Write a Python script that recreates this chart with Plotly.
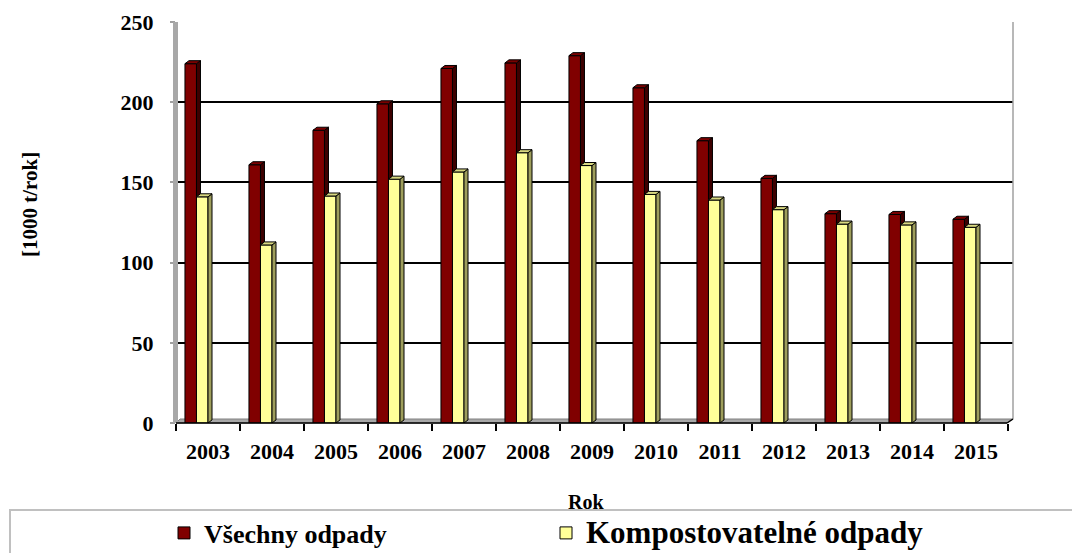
import plotly.graph_objects as go

years = ["2003", "2004", "2005", "2006", "2007", "2008", "2009",
         "2010", "2011", "2012", "2013", "2014", "2015"]
vsechny = [224, 161, 182.5, 199, 221, 224.5, 229, 209, 176, 152.5, 130.5, 130, 127]
kompost = [141, 111, 141.5, 152, 156.5, 168.5, 160.5, 142.5, 139, 133, 124, 123.5, 122]

FONT = "Liberation Serif"
RED, RED_SIDE, RED_TOP = "#800000", "#3d0000", "#7a0000"
YEL, YEL_SIDE, YEL_TOP = "#FFFF99", "#9e9e5c", "#d8d880"

# bar geometry (category units / value units)
W = 0.18
OFF_RED = -0.36
OFF_YEL = -0.18
DX = 0.0625
DY = 1.9

# page offset of the figure (body margin) and target plot area in page pixels
O = 8
L, R, T, B = 176, 1013, 22, 423
WIDTH, HEIGHT = 1080 - O, 553 - O
cat_px = 64.0
x0r = -0.5
x1r = x0r + (R - L) / cat_px

def px(xp):
    return (xp - L) / (R - L)

def py(yp):
    return (B - yp) / (B - T)

idx = list(range(len(years)))

fig = go.Figure()

fig.add_trace(go.Bar(x=idx, y=vsechny, width=W, offset=OFF_RED,
                     marker=dict(color=RED, line=dict(color="black", width=1)),
                     name="<b>Všechny odpady</b>", hoverinfo="y"))
fig.add_trace(go.Bar(x=idx, y=kompost, width=W, offset=OFF_YEL,
                     marker=dict(color=YEL, line=dict(color="black", width=1)),
                     name="<span style='font-size:31px'><b>Kompostovatelné odpady</b></span>",
                     hoverinfo="y"))

def faces(values, off, lower=None):
    sx, sy, tx, ty = [], [], [], []
    for i, v in zip(idx, values):
        a = i + off
        b = a + W
        base = 0 if lower is None else lower[i]
        sx += [b, b + DX, b + DX, b, b, None]
        sy += [base, base + DY, v + DY, v, base, None]
        tx += [a, a + DX, b + DX, b, a, None]
        ty += [v, v + DY, v + DY, v, v, None]
    return sx, sy, tx, ty

sx, sy, tx, ty = faces(vsechny, OFF_RED, lower=kompost)
fig.add_trace(go.Scatter(x=sx, y=sy, mode="lines", fill="toself", fillcolor=RED_SIDE,
                         line=dict(color="black", width=1), showlegend=False, hoverinfo="skip"))
fig.add_trace(go.Scatter(x=tx, y=ty, mode="lines", fill="toself", fillcolor=RED_TOP,
                         line=dict(color="black", width=1), showlegend=False, hoverinfo="skip"))
sx, sy, tx, ty = faces(kompost, OFF_YEL)
fig.add_trace(go.Scatter(x=sx, y=sy, mode="lines", fill="toself", fillcolor=YEL_SIDE,
                         line=dict(color="black", width=1), showlegend=False, hoverinfo="skip"))
fig.add_trace(go.Scatter(x=tx, y=ty, mode="lines", fill="toself", fillcolor=YEL_TOP,
                         line=dict(color="black", width=1), showlegend=False, hoverinfo="skip"))

shapes = [
    dict(type="rect", xref="paper", yref="paper", x0=px(173), x1=px(178), y0=py(423), y1=py(22),
         fillcolor="#a8a8a8", line=dict(width=0), layer="above"),
    dict(type="path", xref="paper", yref="paper",
         path=f"M {px(176)},{py(423)} L {px(1007)},{py(423)} L {px(1013)},{py(419)} L {px(180)},{py(419)} Z",
         fillcolor="#a8a8a8", line=dict(color="#808080", width=1), layer="below"),
    dict(type="line", xref="paper", yref="paper", x0=px(1013), x1=px(1013), y0=py(419), y1=py(22),
         line=dict(color="#a0a0a0", width=1.5)),
    dict(type="rect", xref="paper", yref="paper", x0=px(10), x1=px(1095), y0=py(510), y1=py(570),
         fillcolor="rgba(0,0,0,0)", line=dict(color="#c0c0c0", width=2)),
    dict(type="line", xref="paper", yref="paper", x0=px(176), x1=px(1007),
         y0=py(423), y1=py(423), line=dict(color="black", width=1.5)),
    dict(type="line", xref="paper", yref="paper", x0=px(1007), x1=px(1013),
         y0=py(423), y1=py(419), line=dict(color="black", width=1.5)),
]

fig.update_layout(
    width=WIDTH, height=HEIGHT,
    margin=dict(l=L - O, r=WIDTH - (R - O), t=T - O, b=HEIGHT - (B - O), autoexpand=False),
    paper_bgcolor="white", plot_bgcolor="white",
    font=dict(family=FONT, color="black", size=22),
    barmode="overlay",
    showlegend=True,
    legend=dict(orientation="h", x=px(164), y=py(533), xanchor="left", yanchor="middle",
                font=dict(family=FONT, size=26, color="black"),
                entrywidth=337, entrywidthmode="pixels", itemwidth=30,
                bgcolor="rgba(0,0,0,0)", borderwidth=0, valign="middle"),
    xaxis=dict(range=[x0r, x1r], tickmode="array", tickvals=idx,
               ticktext=[f"<b>{y}</b>" for y in years], ticks="",
               tickfont=dict(family=FONT, size=22), ticklabelstandoff=13,
               showgrid=False, zeroline=False, showline=False,
               minor=dict(tickmode="linear", tick0=-0.5, dtick=1, ticks="outside",
                          ticklen=7, tickwidth=1.5, tickcolor="black", showgrid=False)),
    yaxis=dict(range=[0, 250], tickmode="array", tickvals=[0, 50, 100, 150, 200, 250],
               ticktext=[f"<b>{v}</b>" for v in [0, 50, 100, 150, 200, 250]],
               ticks="outside", ticklen=5, tickwidth=1.5, tickcolor="#a0a0a0",
               tickfont=dict(family=FONT, size=22), ticklabelstandoff=12,
               showgrid=True, gridcolor="black", gridwidth=1.5,
               zeroline=False, showline=False),
    shapes=shapes,
    annotations=[
        dict(text="<b>Rok</b>", xref="paper", yref="paper", x=px(586), y=py(502),
             xanchor="center", yanchor="middle",
             showarrow=False, font=dict(family=FONT, size=20)),
        dict(text="<b>[1000 t/rok]</b>", xref="paper", yref="paper", x=px(30), y=py(205),
             xanchor="center", yanchor="middle",
             textangle=-90, showarrow=False, font=dict(family=FONT, size=21)),
    ],
)

fig.write_html("out.html")
